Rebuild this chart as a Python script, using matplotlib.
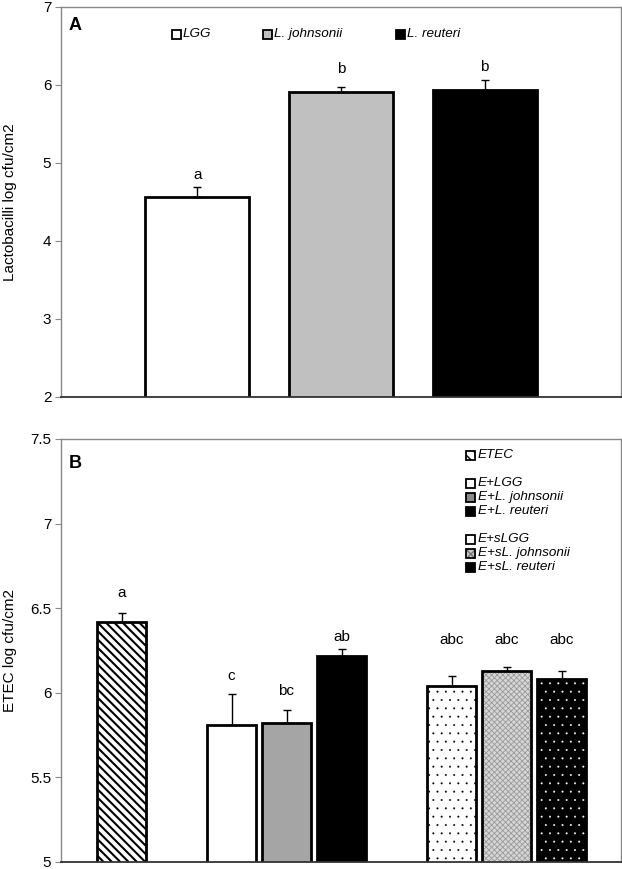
import matplotlib
matplotlib.use("Agg")
import matplotlib.pyplot as plt
from matplotlib.patches import Rectangle
import numpy as np

plt.rcParams['font.family'] = ['Liberation Sans', 'DejaVu Sans']

# ---- panel A data ----
a_labels = ['LGG', 'L. johnsonii', 'L. reuteri']
a_values = [4.56, 5.91, 5.93]
a_errors = [0.13, 0.06, 0.13]
a_letters = ['a', 'b', 'b']
a_letter_y = [4.85, 6.20, 6.23]

# ---- panel B data ----
b_labels = ['ETEC', 'E+LGG', 'E+L. johnsonii', 'E+L. reuteri',
            'E+sLGG', 'E+sL. johnsonii', 'E+sL. reuteri']
b_values = [6.42, 5.81, 5.82, 6.22, 6.04, 6.13, 6.08]
b_errors = [0.05, 0.18, 0.08, 0.04, 0.06, 0.02, 0.05]
b_letters = ['a', 'c', 'bc', 'ab', 'abc', 'abc', 'abc']
b_letter_y = [6.59, 6.10, 6.01, 6.33, 6.31, 6.315, 6.31]

# styles: face, hatch, hatch colour, hatch linewidth
a_faces = ['white', '#c0c0c0', 'black']
b_styles = [
    ('white', '\\\\\\\\', 'black', 1.5),
    ('white', None, None, 0),
    ('#a5a5a5', None, None, 0),
    ('black', None, None, 0),
    ('white', '..', 'black', 0.2),
    ('#d6d6d6', 'xxxxxx', '#9a9a9a', 0.6),
    ('black', '..', 'white', 0.2),
]

W, H = 622, 869
fig = plt.figure(figsize=(W / 100, H / 100), dpi=100)


def px_axes(left, top, right, bottom):
    return fig.add_axes([left / W, 1 - bottom / H, (right - left) / W, (bottom - top) / H])


def style_axes(ax):
    for s in ['left', 'top', 'right']:
        ax.spines[s].set_color('#888888')
        ax.spines[s].set_linewidth(1.0)
    ax.spines['bottom'].set_color('#333333')
    ax.spines['bottom'].set_linewidth(1.3)
    ax.tick_params(axis='y', direction='out', length=4, color='#888888',
                   labelsize=11, pad=3)
    ax.set_xticks([])


def legend_square(x, y, face, hatch=None, hcolor=None, size=9):
    # x, y in pixels (centre)
    with plt.rc_context({'hatch.linewidth': 1.0}):
        r = Rectangle(((x - size / 2) / W, 1 - (y + size / 2) / H), size / W, size / H,
                      transform=fig.transFigure, facecolor=face,
                      edgecolor=hcolor if hatch else 'none', hatch=hatch, linewidth=0)
    fig.add_artist(r)
    r2 = Rectangle(((x - size / 2) / W, 1 - (y + size / 2) / H), size / W, size / H,
                   transform=fig.transFigure, facecolor='none', edgecolor='black',
                   linewidth=1.3)
    fig.add_artist(r2)


def legend_text(x, y, s):
    fig.text(x / W, 1 - y / H, s, fontsize=9.7, style='italic', va='center', ha='left')


# ================= Panel A =================
axA = px_axes(61, 7, 621, 397)
style_axes(axA)
xa = np.arange(len(a_values))
axA.bar(xa, a_values, width=0.725, bottom=0, color=a_faces, edgecolor='black',
        linewidth=2.0, zorder=2)
axA.errorbar(xa, a_values, yerr=[np.zeros(len(a_errors)), a_errors], fmt='none',
             ecolor='black', elinewidth=1, capsize=3, capthick=1, zorder=3)
for x, s, ly in zip(xa, a_letters, a_letter_y):
    axA.text(x, ly, s, ha='center', va='center', fontsize=11)
axA.set_xlim(-0.95, 2.95)
axA.set_ylim(2, 7)
axA.set_yticks([2, 3, 4, 5, 6, 7])
axA.set_ylabel('Lactobacilli log cfu/cm2', fontsize=11)
axA.yaxis.set_label_coords(-0.078, 0.5)
axA.text(75 / W, 1 - 25 / H, 'A', transform=fig.transFigure, fontsize=13,
         fontweight='bold', ha='center', va='center')

legA_x = [176, 267, 400]
for x, lab, face in zip(legA_x, a_labels, a_faces):
    legend_square(x, 34, face)
    legend_text(x + 7, 34, lab)

# ================= Panel B =================
axB = px_axes(61, 439, 621, 862)
style_axes(axB)
xb = np.array([0, 2, 3, 4, 6, 7, 8]) - 0.02
for x, v, (face, hatch, hcol, hlw) in zip(xb, b_values, b_styles):
    if hatch:
        with plt.rc_context({'hatch.linewidth': hlw}):
            axB.bar(x, v, width=0.89, color=face, edgecolor=hcol, hatch=hatch,
                    linewidth=0, zorder=2)
        axB.bar(x, v, width=0.89, color='none', edgecolor='black', linewidth=2.0,
                zorder=2)
    else:
        axB.bar(x, v, width=0.89, color=face, edgecolor='black', linewidth=2.0,
                zorder=2)
axB.errorbar(xb, b_values, yerr=[np.zeros(len(b_errors)), b_errors], fmt='none',
             ecolor='black', elinewidth=1, capsize=3, capthick=1, zorder=3)
for x, s, ly in zip(xb, b_letters, b_letter_y):
    axB.text(x, ly, s, ha='center', va='center', fontsize=11)
axB.set_xlim(-1.12, 9.06)
axB.set_ylim(5, 7.5)
axB.set_yticks([5, 5.5, 6, 6.5, 7, 7.5])
axB.set_yticklabels(['5', '5.5', '6', '6.5', '7', '7.5'])
axB.set_ylabel('ETEC log cfu/cm2', fontsize=11)
axB.yaxis.set_label_coords(-0.078, 0.5)
axB.text(75 / W, 1 - 463 / H, 'B', transform=fig.transFigure, fontsize=13,
         fontweight='bold', ha='center', va='center')

legB_y = [455, 483, 497, 511, 539, 553, 567]
legB_marks = [('white', '\\\\\\', 'black'), ('white', None, None),
              ('#8a8a8a', None, None), ('black', None, None),
              ('white', None, None), ('#c8c8c8', 'xxxx', '#777777'),
              ('black', None, None)]
for y, lab, (face, hatch, hcol) in zip(legB_y, b_labels, legB_marks):
    legend_square(470, y, face, hatch, hcol)
    legend_text(478, y, lab)

fig.savefig('out.png', dpi=100)
